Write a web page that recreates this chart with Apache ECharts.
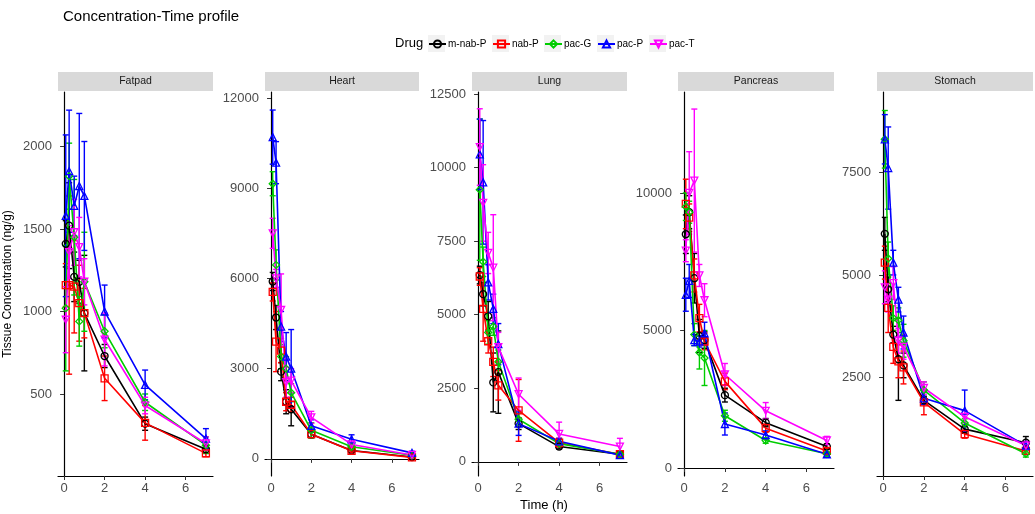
<!DOCTYPE html>
<html lang="en">
<head>
<meta charset="UTF-8">
<title>Concentration-Time profile</title>
<script src="https://cdn.jsdelivr.net/npm/echarts@6/dist/echarts.min.js"></script>
<style>html,body{margin:0;padding:0;background:#fff;}</style>
</head>
<body>
<div id="main" style="width:1035px;height:514px;"></div>
<script type="text/javascript">
// sampling times (h)
var times = [0.083, 0.25, 0.5, 0.75, 1, 2, 4, 7];
var drugs = ['m-nab-P', 'nab-P', 'pac-G', 'pac-P', 'pac-T'];
var tissues = ['Fatpad', 'Heart', 'Lung', 'Pancreas', 'Stomach'];

// mean and sd (ng/g), one row per drug in the order above
var fatpadMean = [
    [1410, 1520, 1210, 1180, 990, 730, 320, 165],
    [1160, 1160, 1150, 1050, 990, 595, 325, 140],
    [1020, 1820, 1450, 940, 1180, 880, 450, 190],
    [1580, 1850, 1640, 1760, 1700, 1000, 555, 230],
    [950, 1360, 1480, 1390, 1180, 830, 430, 200]
];
var fatpadSd = [
    [140, 260, 150, 130, 350, 70, 40, 25],
    [130, 540, 280, 230, 150, 135, 105, 20],
    [380, 200, 350, 150, 300, 100, 50, 50],
    [490, 370, 180, 440, 330, 160, 90, 60],
    [200, 160, 200, 180, 140, 160, 50, 40]
];
var heartMean = [
    [5900, 4700, 2900, 1900, 1650, 820, 280, 60],
    [5550, 3900, 3600, 1900, 1800, 820, 270, 50],
    [9150, 6450, 3400, 3000, 2200, 950, 400, 120],
    [10700, 9850, 4400, 3400, 3000, 1100, 650, 200],
    [7500, 6000, 4950, 2550, 2600, 1380, 480, 130]
];
var heartSd = [
    [300, 400, 300, 400, 550, 120, 60, 20],
    [300, 1000, 400, 300, 250, 120, 50, 20],
    [400, 500, 400, 400, 300, 250, 80, 30],
    [900, 700, 500, 800, 1300, 200, 150, 50],
    [500, 300, 1200, 500, 400, 200, 80, 30]
];
var lungMean = [
    [6350, 5700, 4950, 2700, 3050, 1300, 520, 260],
    [6300, 5200, 4100, 3400, 2600, 1750, 650, 260],
    [9250, 6800, 4400, 4600, 3400, 1450, 620, 260],
    [10450, 9500, 6100, 5200, 4000, 1300, 700, 230],
    [10700, 8800, 7100, 6600, 3900, 2300, 950, 520]
];
var lungSd = [
    [300, 400, 500, 1000, 1400, 200, 80, 40],
    [300, 1100, 400, 500, 500, 1050, 150, 40],
    [2400, 500, 400, 300, 400, 200, 80, 40],
    [1200, 2100, 600, 500, 700, 400, 100, 50],
    [1300, 1300, 700, 1800, 500, 550, 400, 280]
];
var pancreasMean = [
    [8500, 9300, 6900, 4800, 4650, 2650, 1650, 780],
    [9600, 9100, 7000, 5450, 4600, 3150, 1450, 620],
    [9500, 9300, 4850, 4200, 4000, 1900, 1000, 520],
    [6300, 6800, 4650, 4600, 4900, 1600, 1200, 500],
    [7900, 10000, 10450, 7000, 6100, 3400, 2080, 1000]
];
var pancreasSd = [
    [700, 600, 900, 600, 300, 250, 150, 100],
    [900, 500, 600, 500, 300, 300, 150, 80],
    [500, 400, 400, 600, 1000, 200, 100, 50],
    [600, 600, 200, 200, 400, 400, 150, 80],
    [400, 1500, 2600, 400, 600, 400, 300, 150]
];
var stomachMean = [
    [6000, 4650, 3550, 2950, 2800, 1950, 1250, 920],
    [5300, 4200, 3250, 2900, 2750, 1900, 1130, 720],
    [8300, 5400, 3950, 3900, 3400, 2200, 1400, 650],
    [8300, 7600, 5300, 4400, 3600, 2000, 1700, 850],
    [4700, 4400, 4800, 3400, 3250, 2250, 1550, 850]
];
var stomachSd = [
    [400, 300, 200, 1000, 300, 100, 100, 150],
    [400, 600, 400, 400, 400, 300, 100, 80],
    [700, 400, 300, 300, 400, 200, 100, 80],
    [600, 1000, 300, 300, 400, 150, 500, 100],
    [400, 300, 400, 300, 300, 150, 150, 100]
];

var xTicks = [0, 2, 4, 6];
var yTicks = [
    [500, 1000, 1500, 2000],
    [0, 3000, 6000, 9000, 12000],
    [0, 2500, 5000, 7500, 10000, 12500],
    [0, 5000, 10000],
    [2500, 5000, 7500]
];
var yMin = [3, -570, -480, -290, 110];
var yMax = [2330, 12200, 12570, 13670, 9450];

var means = [fatpadMean, heartMean, lungMean, pancreasMean, stomachMean];
var sds = [fatpadSd, heartSd, lungSd, pancreasSd, stomachSd];

var colors = ['#000000', '#ff0000', '#00cd00', '#0000ff', '#ff00ff'];
var symbols = ['circle', 'rect', 'diamond', 'triangle', 'triangle'];
var rotates = [0, 0, 0, 0, 180];

var panelLeft = [58, 265, 472, 678, 877];
var panelWidth = [155, 154, 155, 156, 156];
var panelTop = 92, panelHeight = 384;
var font = 'Liberation Sans, Arial, sans-serif';

var myChart = echarts.init(document.getElementById('main'));

function plain(v) { return String(v); }

function errorBar(params, api) {
    var x = api.value(0);
    var lo = api.coord([x, api.value(1)]);
    var hi = api.coord([x, api.value(2)]);
    var w = 3;
    var st = {stroke: api.visual('color'), lineWidth: 1.4};
    return {type: 'group', children: [
        {type: 'line', shape: {x1: lo[0], y1: lo[1], x2: hi[0], y2: hi[1]}, style: st},
        {type: 'line', shape: {x1: lo[0] - w, y1: lo[1], x2: lo[0] + w, y2: lo[1]}, style: st},
        {type: 'line', shape: {x1: hi[0] - w, y1: hi[1], x2: hi[0] + w, y2: hi[1]}, style: st}
    ]};
}

var grids = [], xAxes = [], yAxes = [], lines = [], bars = [], graphics = [];
tissues.forEach(function (tissue, k) {
    grids.push({left: panelLeft[k], top: panelTop, width: panelWidth[k], height: panelHeight});
    xAxes.push({
        type: 'value', gridIndex: k, min: -0.3, max: 7.35,
        axisLine: {lineStyle: {color: '#000', width: 1.2}},
        axisTick: {length: 4, lineStyle: {color: '#333'}, customValues: xTicks},
        axisLabel: {color: '#4d4d4d', fontSize: 13, fontFamily: font, margin: 6, customValues: xTicks, formatter: plain},
        splitLine: {show: false}
    });
    var ya = {
        type: 'value', gridIndex: k, min: yMin[k], max: yMax[k],
        axisLine: {show: true, lineStyle: {color: '#000', width: 1.2}},
        axisTick: {show: true, length: 4, lineStyle: {color: '#333'}, customValues: yTicks[k]},
        axisLabel: {color: '#4d4d4d', fontSize: 13, fontFamily: font, margin: 6, customValues: yTicks[k], formatter: plain},
        splitLine: {show: false}
    };
    if (k === 0) {
        ya.name = 'Tissue Concentration (ng/g)';
        ya.nameLocation = 'middle';
        ya.nameGap = 44;
        ya.nameTextStyle = {color: '#000', fontSize: 12, fontFamily: font};
    }
    yAxes.push(ya);

    // strip header
    graphics.push({type: 'rect', left: panelLeft[k], top: 72, shape: {width: panelWidth[k], height: 19},
        style: {fill: '#d9d9d9'}, silent: true});
    graphics.push({type: 'text', x: panelLeft[k] + panelWidth[k] / 2, y: 81.5,
        style: {text: tissue, fill: '#1a1a1a', font: '10.5px ' + font, textAlign: 'center', textVerticalAlign: 'middle'}});

    drugs.forEach(function (drug, d) {
        var m = means[k][d], s = sds[k][d];
        lines.push({
            name: drug, type: 'line', xAxisIndex: k, yAxisIndex: k,
            data: times.map(function (t, i) { return [t, m[i]]; }),
            symbol: symbols[d], symbolRotate: rotates[d], symbolSize: 7,
            showAllSymbol: true,
            lineStyle: {color: colors[d], width: 1.6},
            itemStyle: {color: 'rgba(255,255,255,0)', borderColor: colors[d], borderWidth: 1.3},
            emphasis: {disabled: true}, z: 3, animation: false
        });
        bars.push({
            name: drug, type: 'custom', xAxisIndex: k, yAxisIndex: k,
            renderItem: errorBar,
            itemStyle: {color: colors[d]},
            data: times.map(function (t, i) { return [t, m[i] - s[i], m[i] + s[i]]; }),
            z: 2, animation: false
        });
    });
});

// legend key backgrounds and title
var keyLeft = [428, 492, 544, 597, 649];
var legends = drugs.map(function (drug, d) {
    graphics.push({type: 'rect', left: keyLeft[d], top: 35, shape: {width: 17, height: 17},
        style: {fill: '#f2f2f2'}, silent: true, z: -1});
    return {
        data: [drug], left: keyLeft[d], top: 39, padding: 0, itemWidth: 17, itemHeight: 9,
        textStyle: {fontSize: 10, fontFamily: font, color: '#000', padding: [0, 0, 0, -3]}, selectedMode: false
    };
});
graphics.push({type: 'text', x: 395, y: 43.5,
    style: {text: 'Drug', fill: '#000', font: '13px ' + font, textVerticalAlign: 'middle'}});
graphics.push({type: 'text', x: 544, y: 505,
    style: {text: 'Time (h)', fill: '#000', font: '13px ' + font, textAlign: 'center', textVerticalAlign: 'middle'}});

var option = {
    animation: false,
    title: {text: 'Concentration-Time profile', left: 58, top: 4,
        textStyle: {fontSize: 15, fontWeight: 'normal', fontFamily: font, color: '#000'}},
    legend: legends,
    grid: grids,
    xAxis: xAxes,
    yAxis: yAxes,
    graphic: graphics,
    series: lines.concat(bars)
};
myChart.setOption(option);
</script>
</body>
</html>
